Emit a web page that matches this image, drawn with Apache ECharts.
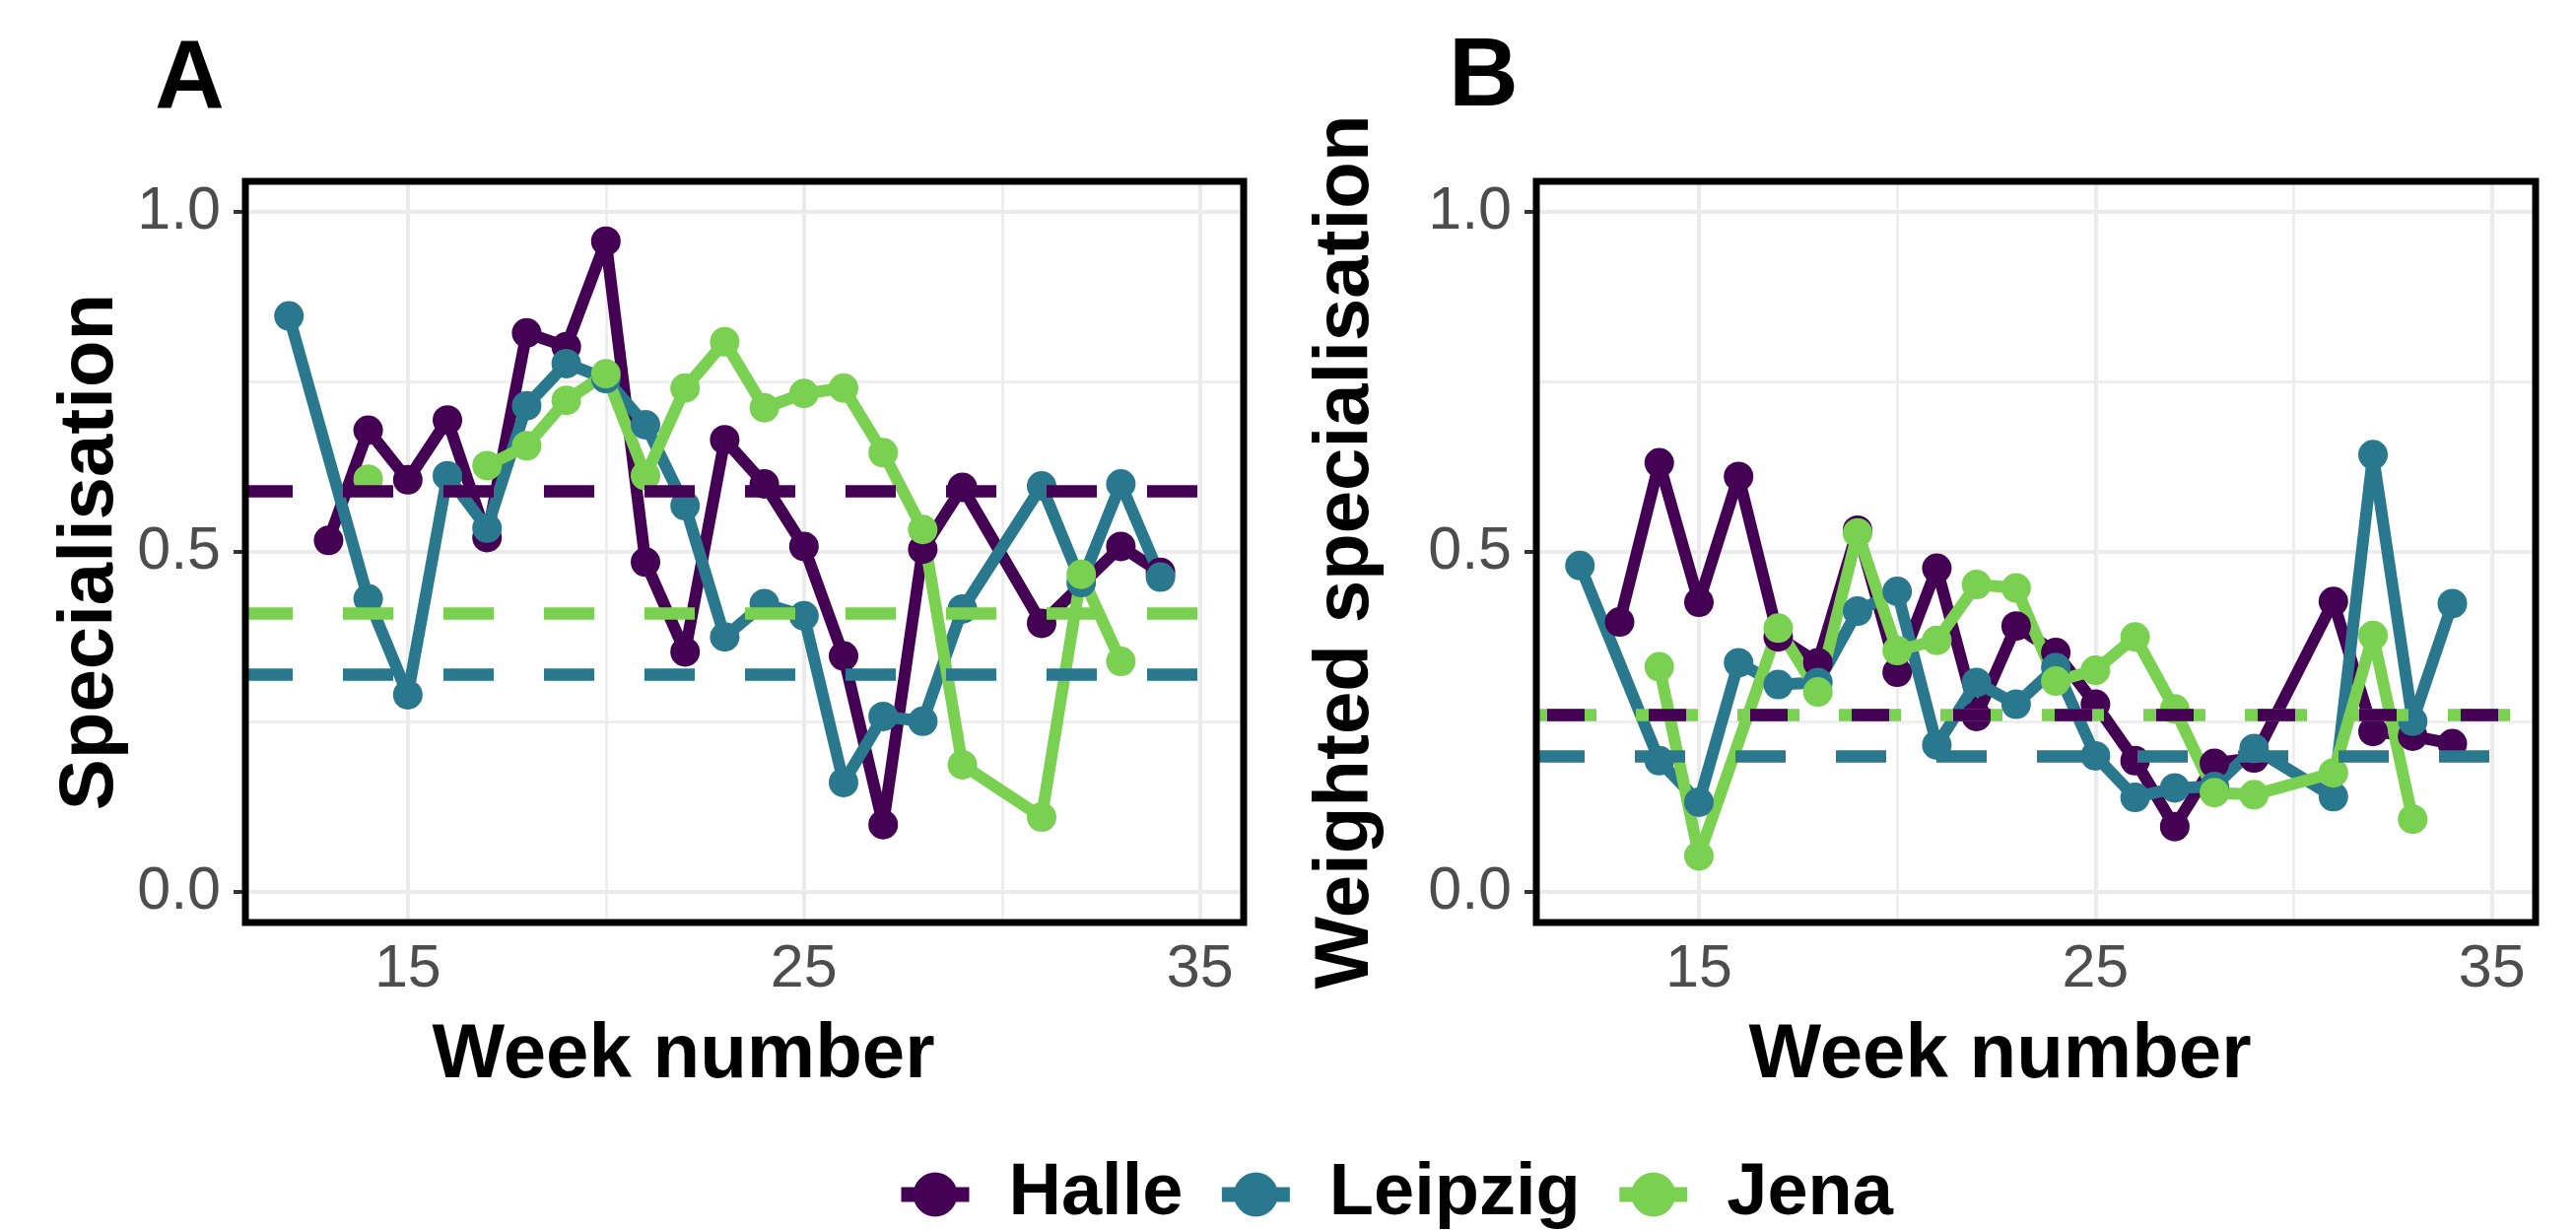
<!DOCTYPE html>
<html>
<head>
<meta charset="utf-8">
<script src="https://cdn.jsdelivr.net/npm/echarts@6/dist/echarts.min.js"></script>
<style>
html, body { margin: 0; padding: 0; background: #fff; }
#chart { width: 2614px; height: 1249px; }
</style>
</head>
<body>
<div id="chart"></div>
<script>
const sites = ['Halle', 'Leipzig', 'Jena']
const colors = ['#440154', '#2A788E', '#7AD151']

// panel A: specialisation (null = missing value, breaks the line)
const weeksHalleA = [13, 14, 15, 16, 17, 18, 19, 20, 21, 22, 23, 24, 25, 26, 27, 28, 29, 31, 33, 34]
const specHalleA = [0.517, 0.679, 0.606, 0.694, 0.521, 0.822, 0.802, 0.957, 0.485, 0.353, 0.665, 0.600, 0.508, 0.347, 0.099, 0.504, 0.595, 0.395, 0.508, 0.470]
const weeksLeipzigA = [12, 14, 15, 16, 17, 18, 19, 20, 21, 22, 23, 24, 25, 26, 27, 28, 29, 31, 32, 33, 34]
const specLeipzigA = [0.847, 0.431, 0.290, 0.612, 0.535, 0.715, 0.777, 0.755, 0.687, 0.568, 0.375, 0.424, 0.406, 0.161, 0.258, 0.251, 0.416, 0.597, 0.455, 0.600, 0.463]
const weeksJenaA = [14, 15, 16, 17, 18, 19, 20, 21, 22, 23, 24, 25, 26, 27, 28, 29, 31, 32, 33]
const specJenaA = [0.607, null, null, 0.627, 0.656, 0.723, 0.762, 0.612, 0.741, 0.809, 0.712, 0.733, 0.741, 0.646, 0.533, 0.187, 0.110, 0.467, 0.339]
const meanA = [0.587, 0.319, 0.407] // Halle, Leipzig, Jena

// panel B: weighted specialisation
const weeksHalleB = [13, 14, 15, 16, 17, 18, 19, 20, 21, 22, 23, 24, 25, 26, 27, 28, 29, 31, 32, 33, 34]
const specHalleB = [0.397, 0.631, 0.426, 0.611, 0.375, 0.337, 0.532, 0.323, 0.476, 0.258, 0.391, 0.352, 0.276, 0.193, 0.096, 0.189, 0.197, 0.427, 0.236, 0.229, 0.218]
const weeksLeipzigB = [12, 14, 15, 16, 17, 18, 19, 20, 21, 22, 23, 24, 25, 26, 27, 28, 29, 31, 32, 33, 34]
const specLeipzigB = [0.480, 0.193, 0.132, 0.337, 0.305, 0.308, 0.413, 0.442, 0.216, 0.308, 0.276, 0.330, 0.200, 0.139, 0.153, 0.155, 0.211, 0.140, 0.643, 0.251, 0.424]
const weeksJenaB = [14, 15, 17, 18, 19, 20, 21, 22, 23, 24, 25, 26, 27, 28, 29, 31, 32, 33]
const specJenaB = [0.331, 0.053, 0.388, 0.294, 0.528, 0.355, 0.370, 0.452, 0.447, 0.310, 0.326, 0.375, 0.269, 0.146, 0.143, 0.175, 0.377, 0.107]
const meanB = [0.260, 0.200, 0.260]

const xBreaks = [15, 25, 35]
const xMinor = [20, 30]
const yBreaks = [0, 0.5, 1]
const yMinor = [0.25, 0.75]

const panels = [
  { weeks: [weeksHalleA, weeksLeipzigA, weeksJenaA], vals: [specHalleA, specLeipzigA, specJenaA], means: meanA,
    // dash pattern per site, offset relative to the panel's left edge
    dash: [[51, 51], [51, 51], [51, 51]], dashOffset: [3, 3, 3] },
  { weeks: [weeksHalleB, weeksLeipzigB, weeksJenaB], vals: [specHalleB, specLeipzigB, specJenaB], means: meanB,
    dash: [[38, 65], [51, 51], [63, 40]], dashOffset: [92, 2, 2] }
]

const font = 'Liberation Sans, Arial, sans-serif'
const gridCol = '#EBEBEB'

const grids = [
  { left: 249, top: 184, width: 1013, height: 752 },
  { left: 1559, top: 184, width: 1014, height: 752 }
].map(g => ({ ...g, show: true, z: 10, backgroundColor: 'transparent', borderColor: '#000', borderWidth: 7, outerBoundsMode: 'none' }))

const xAxes = [0, 1].map(i => ({
  type: 'value', gridIndex: i, min: 10.9, max: 36.1,
  name: 'Week number', nameLocation: 'middle', nameGap: 96,
  nameTextStyle: { fontSize: 78, fontWeight: 'bold', color: '#000', fontFamily: font, padding: [0, i === 0 ? 124 : 73, 0, 0] },
  axisLine: { show: false },
  splitLine: { show: false },
  axisTick: { show: true, length: 12, customValues: xBreaks, lineStyle: { color: '#333', width: 4 } },
  axisLabel: { customValues: xBreaks, fontSize: 61, color: '#4D4D4D', fontFamily: font, margin: 18 }
}))

const yAxes = [0, 1].map(i => ({
  type: 'value', gridIndex: i, min: -0.045, max: 1.045,
  name: i === 0 ? 'Specialisation' : 'Weighted specialisation',
  nameLocation: 'middle', nameRotate: 90, nameGap: i === 0 ? 118 : 154,
  nameTextStyle: { fontSize: 78, fontWeight: 'bold', color: '#000', fontFamily: font },
  axisLine: { show: false },
  splitLine: { show: false },
  axisTick: { show: true, length: 12, customValues: yBreaks, lineStyle: { color: '#333', width: 4 } },
  axisLabel: { customValues: yBreaks, formatter: v => v.toFixed(1), fontSize: 61, color: '#4D4D4D', fontFamily: font, margin: 25 }
}))

const series = []
panels.forEach((p, pi) => {
  // background grid lines
  series.push({
    type: 'line', name: 'grid' + pi, xAxisIndex: pi, yAxisIndex: pi, data: [], silent: true,
    markLine: {
      silent: true, symbol: 'none', z: 1, animation: false, label: { show: false },
      data: [
        ...xBreaks.map(v => ({ xAxis: v, lineStyle: { color: gridCol, width: 4, type: 'solid' } })),
        ...xMinor.map(v => ({ xAxis: v, lineStyle: { color: gridCol, width: 2.5, type: 'solid' } })),
        ...yBreaks.map(v => ({ yAxis: v, lineStyle: { color: gridCol, width: 4, type: 'solid' } })),
        ...yMinor.map(v => ({ yAxis: v, lineStyle: { color: gridCol, width: 2.5, type: 'solid' } }))
      ]
    }
  })
  sites.forEach((s, si) => {
    series.push({
      type: 'line', name: s, xAxisIndex: pi, yAxisIndex: pi,
      data: p.weeks[si].map((w, k) => [w, p.vals[si][k] == null ? '-' : p.vals[si][k]]),
      symbol: 'circle', symbolSize: 30, showSymbol: true,
      lineStyle: { color: colors[si], width: 12, join: 'round', cap: 'butt' },
      itemStyle: { color: colors[si] },
      connectNulls: false,
      emphasis: { disabled: true },
      markLine: {
        silent: true, symbol: 'none', z: 7 - si, animation: false, label: { show: false },
        data: [{ yAxis: p.means[si] }],
        lineStyle: { color: colors[si], width: 12.5, type: p.dash[si], dashOffset: p.dashOffset[si], cap: 'butt' }
      }
    })
  })
})

const chart = echarts.init(document.getElementById('chart'))
chart.setOption({
  animation: false,
  backgroundColor: '#fff',
  title: [
    { text: 'A', left: 152, top: 28, textStyle: { fontSize: 98, fontWeight: 'bold', color: '#000', fontFamily: font } },
    { text: 'B', left: 1465, top: 26, textStyle: { fontSize: 98, fontWeight: 'bold', color: '#000', fontFamily: font } }
  ],
  legend: {
    data: sites, left: 902, top: 1170, itemWidth: 69, itemHeight: 56, itemGap: 32,
    selectedMode: false,
    lineStyle: { width: 15 },
    textStyle: { fontSize: 74, fontWeight: 'bold', color: '#000', fontFamily: font, padding: [0, 0, 0, 35] }
  },
  grid: grids,
  xAxis: xAxes,
  yAxis: yAxes,
  series: series
})
</script>
</body>
</html>
